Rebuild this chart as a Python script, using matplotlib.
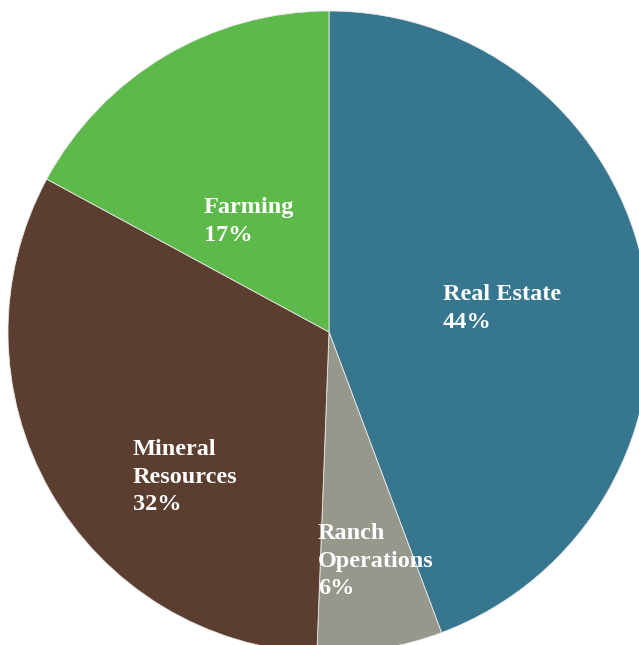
import matplotlib
matplotlib.use("Agg")
import matplotlib.pyplot as plt

# segment shares (%), clockwise from 12 o'clock
segments = ["Real Estate", "Ranch\nOperations", "Mineral\nResources", "Farming"]
shares = [44.3, 6.3, 32.3, 17.1]
colors = ["#37768F", "#97988C", "#5C3E30", "#5CB94A"]
# label anchor (left / top) in pixels of the picture
label_px = [(443, 284), (318, 523), (133, 439), (204, 197)]

W, H = 639, 645
cx, cy, r = 329, 332, 321

fig = plt.figure(figsize=(W / 100, H / 100), dpi=100)
ax = fig.add_axes([0, 0, 1, 1])
ax.pie(shares, colors=colors, startangle=90, counterclock=False,
       radius=r, center=(0, 0),
       wedgeprops=dict(edgecolor="#e8e8e8", linewidth=0.6))

for name, v, (px, py) in zip(segments, shares, label_px):
    ax.text(px - cx, cy - py, "%s\n%d%%" % (name, round(v)),
            ha="left", va="top", color="white", fontsize=17.5,
            fontweight="bold", family="Liberation Serif", linespacing=1.42)

ax.set_xlim(-cx, W - cx)
ax.set_ylim(-(H - cy), cy)
ax.set_aspect("auto")
ax.axis("off")
fig.savefig("out.png", dpi=100)
